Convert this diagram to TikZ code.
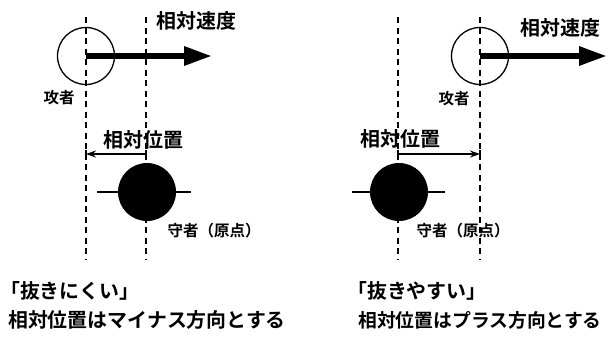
\documentclass[tikz,border=0pt]{standalone}
\usepackage{fontspec}
\setmainfont{Noto Sans CJK JP}[BoldFont={Noto Sans CJK JP Bold}]
\usetikzlibrary{arrows.meta}
\tikzset{
  dashline/.style={line width=1.6pt, dash pattern=on 6pt off 4.5pt},
  attacker/.style={circle, draw, line width=1.3pt, minimum size=57pt, inner sep=0pt},
  defender/.style={circle, fill=black, minimum size=58pt, inner sep=0pt},
  axisline/.style={line width=1.3pt},
  bigarrow/.style={line width=6pt, -{Triangle[length=28pt,width=18pt]}},
  dimarrow/.style={line width=1.4pt, -{Stealth[length=10pt,width=7pt]}},
  tick/.style={line width=1.4pt},
  biglabel/.style={font=\bfseries\fontsize{20}{24}\selectfont, inner sep=0pt},
  smalllabel/.style={font=\bfseries\fontsize{15.5}{18}\selectfont, inner sep=0pt},
  textline/.style={font=\bfseries\fontsize{19.9}{24}\selectfont, inner sep=0pt, anchor=west},
}
\begin{document}
\begin{tikzpicture}[x=1pt,y=-1pt]
\useasboundingbox (0,0) rectangle (609,343);
% ---------- left panel ----------
\coordinate (L1t) at (86,17);  \coordinate (L1b) at (86,260);
\coordinate (L2t) at (146,17); \coordinate (L2b) at (146,260);
\draw[dashline] (L1t) -- (L1b);
\draw[dashline] (L2t) -- (L2b);
\node[attacker] (aL) at (86,56) {};
\coordinate (vL) at (212,56);
\draw[bigarrow] (aL.center) -- (vL);
\node[biglabel] (tvL) at (196,21) {相対速度};
\node[smalllabel] (taL) at (59,98) {攻者};
\node[biglabel] (tpL) at (143,140) {相対位置};
\coordinate (pL1) at (146,154); \coordinate (pL2) at (86,154);
\draw[dimarrow] (pL1) -- (pL2);
\draw[tick] ([yshift=-4pt]pL1) -- ([yshift=4pt]pL1);
\draw[tick] ([yshift=-4pt]pL2) -- ([yshift=4pt]pL2);
\coordinate (hL1) at (97,192); \coordinate (hL2) at (191,192);
\draw[axisline] (hL1) -- (hL2);
\node[defender] (dL) at (147,192) {};
\node[smalllabel] (tdL) at (214,231) {守者（原点）};
\node[textline] (t1L) at (0,291) {「抜きにくい」};
\node[textline] (t2L) at (8,320) {相対位置はマイナス方向とする};
% ---------- right panel ----------
\coordinate (R1t) at (398,17);  \coordinate (R1b) at (398,260);
\coordinate (R2t) at (480,17);  \coordinate (R2b) at (480,260);
\draw[dashline] (R1t) -- (R1b);
\draw[dashline] (R2t) -- (R2b);
\node[attacker] (aR) at (480,56) {};
\coordinate (vR) at (607,56);
\draw[bigarrow] (aR.center) -- (vR);
\node[biglabel] (tvR) at (560,28) {相対速度};
\node[smalllabel] (taR) at (454,99) {攻者};
\node[biglabel] (tpR) at (400,139) {相対位置};
\coordinate (pR1) at (398,154); \coordinate (pR2) at (480,154);
\draw[dimarrow] (pR1) -- (pR2);
\draw[tick] ([yshift=-4pt]pR1) -- ([yshift=4pt]pR1);
\draw[tick] ([yshift=-4pt]pR2) -- ([yshift=4pt]pR2);
\coordinate (hR1) at (352,192); \coordinate (hR2) at (445,192);
\draw[axisline] (hR1) -- (hR2);
\node[defender] (dR) at (399,192) {};
\node[smalllabel] (tdR) at (463,231) {守者（原点）};
\node[textline] (t1R) at (347,291) {「抜きやすい」};
\node[textline, font=\bfseries\fontsize{18.8}{24}\selectfont] (t2R) at (358,320) {相対位置はプラス方向とする};
\end{tikzpicture}
\end{document}
